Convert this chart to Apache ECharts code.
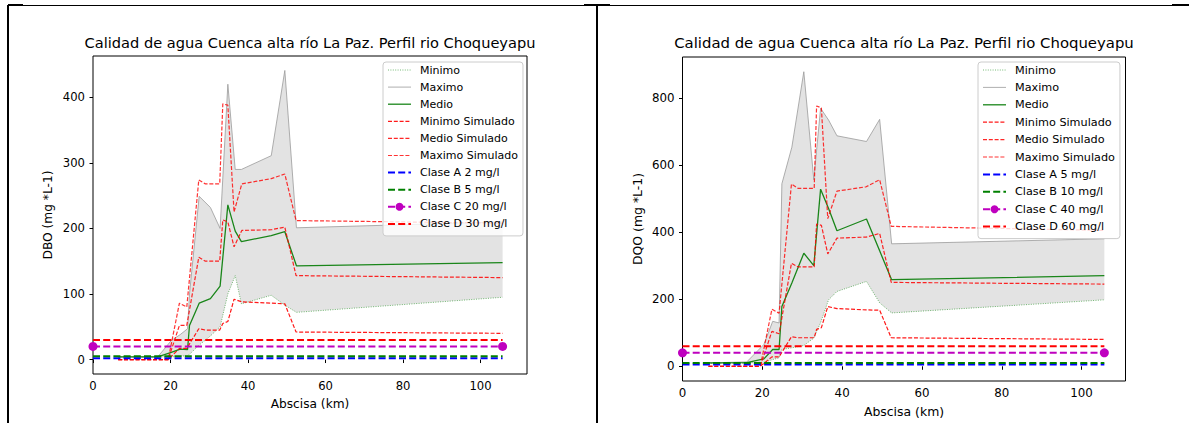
<!DOCTYPE html>
<html>
<head>
<meta charset="utf-8">
<title>Calidad de agua Cuenca alta río La Paz</title>
<script src="https://cdn.jsdelivr.net/npm/echarts@6.0.0/dist/echarts.min.js"></script>
<style>
  body { margin: 0; background: #fff; }
  #wrap { position: relative; width: 1189px; height: 423px; overflow: hidden; }
  #chart { position: absolute; left: 0; top: 0; width: 1189px; height: 423px; }
  .ln { position: absolute; background: #000; }
</style>
</head>
<body>
<div id="wrap">
  <!-- table cell borders of the original document -->
  <div class="ln" style="left:8px;top:5px;width:1181px;height:1px"></div>
  <div class="ln" style="left:8px;top:4px;width:15px;height:2px"></div>
  <div class="ln" style="left:584px;top:4px;width:26px;height:2px"></div>
  <div class="ln" style="left:1172px;top:4px;width:17px;height:2px"></div>
  <div class="ln" style="left:7px;top:5px;width:2px;height:418px"></div>
  <div class="ln" style="left:596px;top:5px;width:2px;height:418px"></div>
  <div id="chart"></div>
</div>
<script>
var FONT = 'DejaVu Sans';
var TITLE = 'Calidad de agua Cuenca alta río La Paz. Perfil rio Choqueyapu';
var xTicks = [0, 20, 40, 60, 80, 100];
var yTicksDBO = [0, 100, 200, 300, 400];
var yTicksDQO = [0, 200, 400, 600, 800];
var classLetters = ['A', 'B', 'C', 'D'];
var classX = [0, 105.7];

// DBO (left) - observado
var xObsDBO = [6.5, 16.7, 20.2, 22.5, 24.4, 24.9, 27.4, 30.3, 32.8, 34.8, 36.7, 38.3, 46, 49.5, 52.5, 105.7];
var minDBO  = [4, 4, 4, 5, 6, 8, 22, 36, 50, 100, 128, 85, 98, 83, 72, 95];
var maxDBO  = [4, 4, 29, 38, 47, 100, 249, 232, 200, 420, 290, 290, 311, 441, 201, 210];
var medDBO  = [4, 4, 11, 16, 15, 52, 86, 93, 112, 236, 196, 180, 189, 195, 143, 148];
// DBO - simulado
var xSimDBO    = [6.5, 19.4, 22.3, 24.2, 27.3, 29, 32.7, 33.5, 34.8, 36.4, 38.4, 46, 49.5, 52.4, 105.7];
var minSimDBO  = [0, 0, 17, 17, 47, 45, 45, 55, 58, 92, 88, 86, 85, 42, 40];
var medSimDBO  = [0, 0, 52, 52, 156, 150, 150, 213, 210, 172, 197, 198, 202, 128, 125];
var maxSimDBO  = [0, 0, 86, 80, 274, 268, 268, 390, 388, 225, 268, 276, 283, 212, 208];
var classDBO   = [2, 5, 20, 30];

// DQO (right) - observado
var xObsDQO = [6.5, 16.1, 20.4, 22.6, 24.2, 24.9, 27.4, 30.4, 32.9, 34.6, 36.6, 38.7, 46.1, 49.4, 52.4, 105.7];
var minDQO  = [8, 10, 12, 20, 25, 50, 55, 62, 84, 130, 198, 223, 253, 189, 159, 198];
var maxDQO  = [10, 13, 65, 134, 129, 544, 653, 878, 556, 769, 734, 687, 670, 736, 365, 380];
var medDQO  = [10, 11, 22, 50, 50, 178, 248, 337, 300, 528, 470, 404, 439, 344, 258, 270];
// DQO - simulado
var xSimDQO    = [6.5, 19.5, 22.4, 24.2, 27.3, 29, 33, 33.6, 34.8, 36.4, 38.7, 46, 49.4, 52.3, 105.7];
var minSimDQO  = [0, 0, 28, 28, 88, 85, 85, 110, 115, 178, 172, 168, 167, 85, 80];
var medSimDQO  = [0, 0, 104, 97, 307, 296, 296, 424, 420, 335, 382, 385, 396, 250, 245];
var maxSimDQO  = [0, 0, 170, 158, 543, 530, 530, 776, 770, 440, 522, 535, 556, 417, 405];
var classDQO   = [5, 10, 40, 60];

var classColors = ['#0000ff', '#008000', '#bf00bf', '#ff0000'];

function pairs(xs, ys) {
  return xs.map(function (x, i) { return [x, ys[i]]; });
}

function line(idx, name, xs, ys, ls) {
  return {
    type: 'line', name: name, xAxisIndex: idx, yAxisIndex: idx,
    data: pairs(xs, ys), symbol: 'none', color: ls.color,
    lineStyle: ls, emphasis: { disabled: true }
  };
}

function band(idx, xs, lo, hi) {
  return {
    type: 'custom', xAxisIndex: idx, yAxisIndex: idx, silent: true,
    data: [[xs[0], lo[0]]],
    renderItem: function (params, api) {
      var pts = [];
      for (var i = 0; i < xs.length; i++) pts.push(api.coord([xs[i], hi[i]]));
      for (var j = xs.length - 1; j >= 0; j--) pts.push(api.coord([xs[j], lo[j]]));
      return { type: 'polygon', shape: { points: pts }, style: { fill: '#e3e3e3' } };
    }
  };
}

function panel(idx, d) {
  var k = d.scale;
  var names = ['Minimo', 'Maximo', 'Medio', 'Minimo Simulado', 'Medio Simulado', 'Maximo Simulado'];
  var series = [
    band(idx, d.xObs, d.min, d.max),
    line(idx, 'Minimo', d.xObs, d.min, { color: 'rgba(0,128,0,0.6)', width: 0.9, type: [1, 1.4] }),
    line(idx, 'Maximo', d.xObs, d.max, { color: '#9a9a9a', width: 0.8, type: 'solid' }),
    line(idx, 'Medio', d.xObs, d.med, { color: '#1a861a', width: 1.3, type: 'solid' }),
    line(idx, 'Minimo Simulado', d.xSim, d.minSim, { color: 'rgba(255,0,0,0.9)', width: 1.2, type: [4, 1.8] }),
    line(idx, 'Medio Simulado', d.xSim, d.medSim, { color: 'rgba(255,0,0,0.85)', width: 1.2, type: [4, 1.8] }),
    line(idx, 'Maximo Simulado', d.xSim, d.maxSim, { color: 'rgba(255,0,0,0.8)', width: 1.2, type: [4, 1.8] })
  ];
  d.classes.forEach(function (v, c) {
    var nm = 'Clase ' + classLetters[c] + ' ' + v + ' mg/l';
    names.push(nm);
    var s = line(idx, nm, classX, [v, v], { color: classColors[c], width: 2, type: [7, 3.2] });
    if (classLetters[c] === 'C') {
      s.symbol = 'circle';
      s.symbolSize = 9;
      s.showSymbol = true;
      s.itemStyle = { color: classColors[c] };
    }
    series.push(s);
  });
  var legend = {
    orient: 'vertical', left: d.legLeft, top: 62,
    padding: [2, 5, 6, 4], itemWidth: 23, itemHeight: 10, itemGap: d.legGap,
    backgroundColor: 'rgba(255,255,255,0.8)', borderColor: '#cccccc', borderWidth: 1, borderRadius: 3,
    lineStyle: { width: 'inherit' },
    textStyle: { fontFamily: FONT, fontSize: 11 * k, color: '#000', lineHeight: 12, padding: [0, 0, 0, 4] },
    data: names.map(function (n) {
      return n.indexOf('Clase C') === 0 ? n : { name: n, itemStyle: { opacity: 0 } };
    })
  };
  var nameText = { fontFamily: FONT, fontSize: 12.2 * k, color: '#000' };
  var tickText = { fontFamily: FONT, fontSize: 11.6 * k, color: '#000' };
  var xAxis = {
    type: 'value', gridIndex: idx, min: 0, max: d.xMax,
    name: 'Abscisa (km)', nameLocation: 'middle', nameGap: 24, nameTextStyle: nameText,
    axisLine: { show: false }, splitLine: { show: false },
    axisTick: { customValues: xTicks, length: 3.5, lineStyle: { color: '#000' } },
    axisLabel: Object.assign({ customValues: xTicks, margin: 6 }, tickText)
  };
  var yAxis = {
    type: 'value', gridIndex: idx, min: d.yMin, max: d.yMax,
    name: d.yName, nameLocation: 'middle', nameGap: 39, nameTextStyle: nameText,
    axisLine: { show: false }, splitLine: { show: false },
    axisTick: { customValues: d.yTicks, length: 3.5, lineStyle: { color: '#000' } },
    axisLabel: Object.assign({ customValues: d.yTicks, margin: 8 }, tickText)
  };
  var title = {
    text: TITLE, left: d.titleX, top: 35, textAlign: 'center', padding: 0,
    textStyle: { fontFamily: FONT, fontSize: 14.6 * k, fontWeight: 'normal', color: '#000' }
  };
  return { grid: d.grid, xAxis: xAxis, yAxis: yAxis, legend: legend, title: title, series: series };
}

var left = panel(0, {
  xObs: xObsDBO, min: minDBO, max: maxDBO, med: medDBO,
  xSim: xSimDBO, minSim: minSimDBO, medSim: medSimDBO, maxSim: maxSimDBO,
  classes: classDBO, yName: 'DBO (mg *L-1)', yTicks: yTicksDBO,
  yMin: -22.05, yMax: 463.05, xMax: 112, scale: 1,
  legLeft: 383, legGap: 5.1, titleX: 310,
  grid: { left: 93, top: 56, width: 434, height: 318, show: true, borderColor: '#000', borderWidth: 1 }
});
var right = panel(1, {
  xObs: xObsDQO, min: minDQO, max: maxDQO, med: medDQO,
  xSim: xSimDQO, minSim: minSimDQO, medSim: medSimDQO, maxSim: maxSimDQO,
  classes: classDQO, yName: 'DQO (mg *L-1)', yTicks: yTicksDQO,
  yMin: -43.9, yMax: 921.9, xMax: 111, scale: 1.02,
  legLeft: 978, legGap: 5.4, titleX: 904,
  grid: { left: 682.5, top: 57, width: 443, height: 324, show: true, borderColor: '#000', borderWidth: 1 }
});

var chart = echarts.init(document.getElementById('chart'), null, { renderer: 'svg' });
chart.setOption({
  animation: false,
  textStyle: { fontFamily: FONT },
  title: [left.title, right.title],
  grid: [left.grid, right.grid],
  xAxis: [left.xAxis, right.xAxis],
  yAxis: [left.yAxis, right.yAxis],
  legend: [left.legend, right.legend],
  series: left.series.concat(right.series)
});
</script>
</body>
</html>
